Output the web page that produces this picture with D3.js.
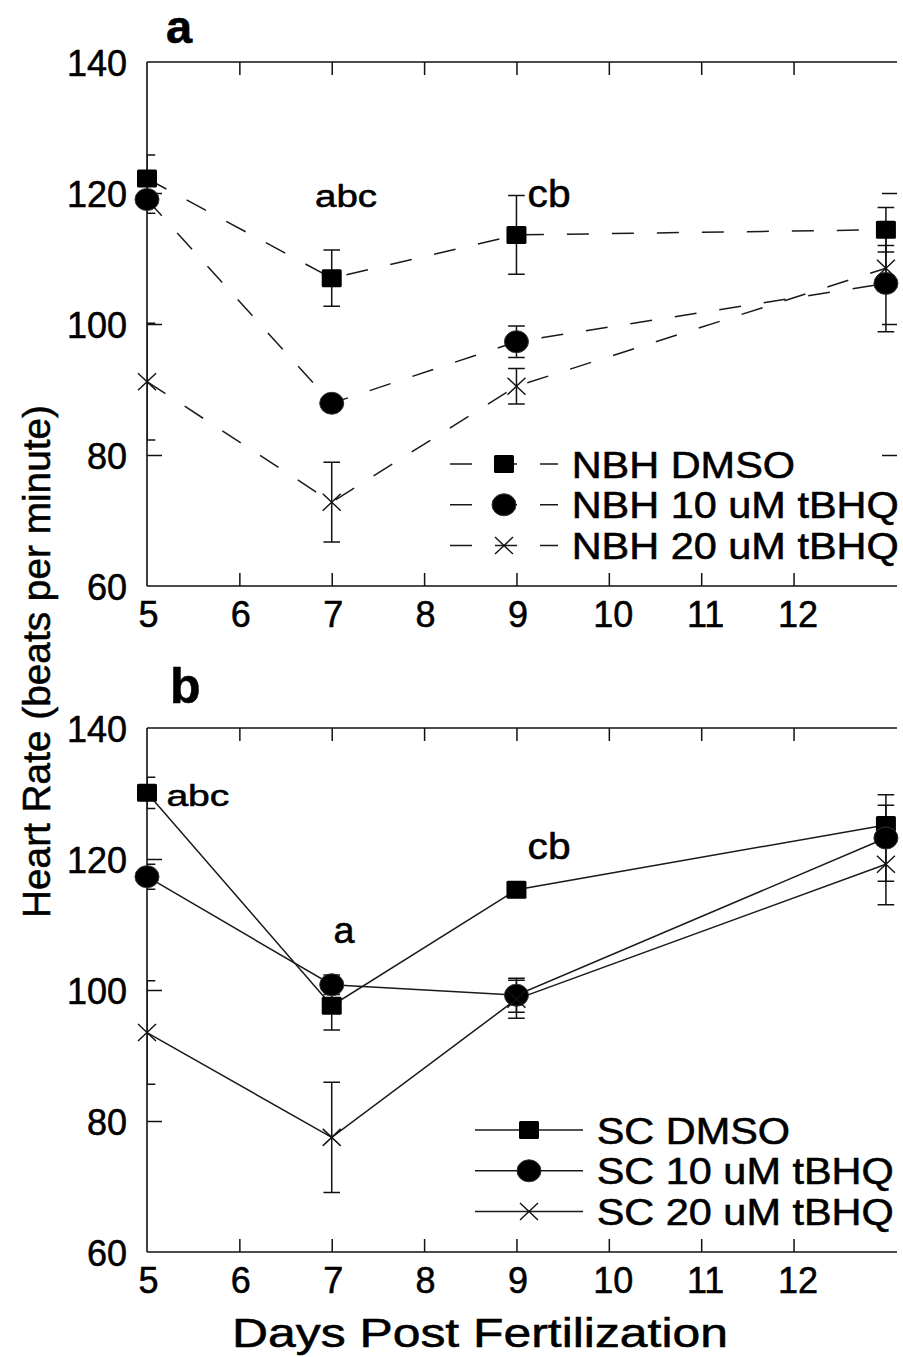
<!DOCTYPE html>
<html>
<head>
<meta charset="utf-8">
<script src="https://cdn.jsdelivr.net/npm/d3@7"></script>
<style>
  html, body { margin: 0; padding: 0; background: #fff; }
  svg { display: block; }
  text { font-family: "Liberation Sans", Arial, Helvetica, sans-serif; fill: #000; stroke: #000; stroke-width: 0.55px; }
</style>
</head>
<body>
<svg id="chart" width="903" height="1357"></svg>
<script>
// ---------------- data ----------------
const days = [5, 7, 9, 13];
const xTickValues = [5, 6, 7, 8, 9, 10, 11, 12];
const yTickValues = [60, 80, 100, 120, 140];

// Panel a (NBH)
const namesA = ["NBH DMSO", "NBH 10 uM tBHQ", "NBH 20 uM tBHQ"];
const nbhDMSO      = [122.2, 107.0, 113.6, 114.4];
const nbhDMSOErr   = [3.6, 4.3, 6.0, 3.4];
const nbh10        = [119.0, 87.9, 97.3, 106.2];
const nbh10Err     = [2.1, 1.0, 2.4, 7.4];
const nbh20        = [91.2, 72.8, 90.5, 108.5];
const nbh20Err     = [8.9, 6.1, 2.7, 3.5];

// Panel b (SC)
const namesB = ["SC DMSO", "SC 10 uM tBHQ", "SC 20 uM tBHQ"];
const scDMSO       = [130.1, 97.6, 115.3, 125.2];
const scDMSOErr    = [2.4, 3.7, 0.8, 3.0];
const sc10         = [117.3, 100.8, 99.2, 123.2];
const sc10Err      = [1.9, 1.5, 2.6, 6.6];
const sc20         = [93.5, 77.5, 98.6, 119.2];
const sc20Err      = [7.9, 8.4, 2.9, 6.2];

// significance annotations (text, day, value at baseline)
const annTextA  = ["abc", "cb"];
const annDayA   = [6.82, 9.12];
const annValA   = [117.9, 117.9];
const annTextB  = ["abc", "a", "cb"];
const annDayB   = [5.21, 7.02, 9.12];
const annValB   = [128.1, 107.1, 119.95];

const markerTypes = ["square", "circle", "cross"];

// ---------------- layout ----------------
const svg = d3.select("#chart");
const X0 = 147, X1 = 897;
const x = d3.scaleLinear().domain([5, 13.12]).range([X0, X1]);

function fit(sel, w) {
  sel.attr("textLength", w).attr("lengthAdjust", "spacingAndGlyphs");
}
function stretch(sel, f) {
  sel.each(function () {
    const n = this.getComputedTextLength();
    d3.select(this).attr("textLength", n * f).attr("lengthAdjust", "spacingAndGlyphs");
  });
}

function drawMarker(g, type, cx, cy, scale) {
  const s = scale || 1;
  if (type === "square") {
    g.append("rect").attr("x", cx - 10 * s).attr("y", cy - 9 * s)
      .attr("width", 20 * s).attr("height", 18 * s).attr("rx", 1.5)
      .attr("fill", "#000");
  } else if (type === "circle") {
    g.append("ellipse").attr("cx", cx).attr("cy", cy)
      .attr("rx", 12 * s).attr("ry", 11 * s).attr("fill", "#000")
      .attr("stroke", "#333").attr("stroke-width", 1);
  } else {
    const hx = 9 * s, hy = 8.5 * s;
    g.append("path")
      .attr("d", `M${cx - hx},${cy - hy}L${cx + hx},${cy + hy}M${cx - hx},${cy + hy}L${cx + hx},${cy - hy}`)
      .attr("stroke", "#111").attr("stroke-width", 1.4).attr("fill", "none");
  }
}

function panel(cfg) {
  const y = d3.scaleLinear().domain([60, 140]).range([cfg.bottom, cfg.top]);
  const g = svg.append("g");

  const clipId = "clip" + cfg.id;
  svg.append("defs").append("clipPath").attr("id", clipId)
    .append("rect").attr("x", X0).attr("y", cfg.top - 40)
    .attr("width", X1 - X0 + 20).attr("height", cfg.bottom - cfg.top + 80);

  // axes
  const bottomAxis = d3.axisBottom(x).tickValues(xTickValues).tickSizeInner(-13).tickSizeOuter(0)
    .tickPadding(15.5).tickFormat(d3.format("d"));
  const gb = g.append("g").attr("transform", `translate(0,${cfg.bottom})`).call(bottomAxis);
  const topAxis = d3.axisTop(x).tickValues(xTickValues.slice(1)).tickSizeInner(-13).tickSizeOuter(0)
    .tickFormat("");
  const gt = g.append("g").attr("transform", `translate(0,${cfg.top})`).call(topAxis);
  const leftAxis = d3.axisLeft(y).tickValues(yTickValues).tickSizeInner(-15).tickSizeOuter(0)
    .tickPadding(20).tickFormat(d3.format("d"));
  const gl = g.append("g").attr("transform", `translate(${X0},0)`).call(leftAxis);
  [gb, gt, gl].forEach(a => {
    a.select(".domain").attr("stroke", "#111").attr("stroke-width", 1.6);
    a.selectAll(".tick line").attr("stroke", "#111").attr("stroke-width", 1.5);
    a.selectAll("text").attr("font-size", 36).attr("fill", "#000")
      .style("font-family", '"Liberation Sans", Arial, sans-serif');
  });
  gb.select(".domain").attr("d", `M${X0},0H${X1}`);
  gt.select(".domain").attr("d", `M${X0},0H${X1}`);
  gl.select(".domain").attr("d", `M0,${cfg.bottom}V${cfg.top}`);
  gl.selectAll("text").attr("dy", "0.375em");
  gb.selectAll("text").attr("dx", d => d >= 10 ? 4 : 1);
  gb.selectAll(".tick").filter(d => d === 5).select("line").remove();
  gl.selectAll(".tick").filter(d => d === 60 || d === 140).select("line").remove();

  if (cfg.rightTicks) {
    const rightAxis = d3.axisRight(y).tickValues(cfg.rightTicks).tickSizeInner(-15).tickSizeOuter(0)
      .tickFormat("");
    const gr = g.append("g").attr("transform", `translate(${X1},0)`).call(rightAxis);
    gr.select(".domain").remove();
    gr.selectAll(".tick line").attr("stroke", "#111").attr("stroke-width", 1.5);
  }

  // series lines
  const line = d3.line().x((d, i) => x(days[i])).y(d => y(d));
  cfg.series.forEach(s => {
    g.append("path").datum(s.values).attr("d", line)
      .attr("fill", "none").attr("stroke", "#1a1a1a").attr("stroke-width", 1.5)
      .attr("stroke-dasharray", cfg.dash || null);
  });

  // error bars
  const ge = g.append("g").attr("clip-path", `url(#${clipId})`);
  cfg.series.forEach(s => {
    s.values.forEach((v, i) => {
      const cx = x(days[i]);
      const y1 = y(v + s.err[i]), y2 = y(v - s.err[i]);
      ge.append("path")
        .attr("d", `M${cx},${y1}V${y2}M${cx - 8.3},${y1}H${cx + 8.3}M${cx - 8.3},${y2}H${cx + 8.3}`)
        .attr("stroke", "#111").attr("stroke-width", 1.5).attr("fill", "none");
    });
  });

  // markers
  const gm = g.append("g");
  cfg.series.forEach(s => {
    s.values.forEach((v, i) => drawMarker(gm, s.marker, x(days[i]), y(v)));
  });

  // annotations
  cfg.ann.text.forEach((t, i) => {
    const st = cfg.annStyle[i];
    g.append("text").attr("x", x(cfg.ann.day[i])).attr("y", y(cfg.ann.val[i]))
      .attr("font-size", st.size).text(t).call(fit, st.w);
  });

  // legend
  const lg = g.append("g");
  cfg.series.forEach((s, i) => {
    const cy = cfg.top + 402 + i * 40.8;
    lg.append("line").attr("x1", cfg.legLine[0]).attr("x2", cfg.legLine[1])
      .attr("y1", cy).attr("y2", cy)
      .attr("stroke", "#1a1a1a").attr("stroke-width", 1.5)
      .attr("stroke-dasharray", cfg.dash || null);
    drawMarker(lg, s.marker, (cfg.legLine[0] + cfg.legLine[1]) / 2, cy, 1.0);
    lg.append("text").attr("x", cfg.legText).attr("y", cy + 13.5)
      .attr("font-size", 37).text(s.name).call(stretch, 1.12);
  });

  // panel letter
  g.append("text").attr("x", cfg.letterX).attr("y", cfg.letterY)
    .attr("font-size", cfg.letterSize).attr("font-weight", "bold").text(cfg.letter);
}

panel({
  id: "a", top: 62, bottom: 586, dash: "22,23", letter: "a", letterX: 166, letterY: 43, letterSize: 47,
  rightTicks: [80, 100, 120],
  legLine: [450, 558], legText: 571.7,
  series: [
    { name: namesA[0], values: nbhDMSO, err: nbhDMSOErr, marker: markerTypes[0] },
    { name: namesA[1], values: nbh10, err: nbh10Err, marker: markerTypes[1] },
    { name: namesA[2], values: nbh20, err: nbh20Err, marker: markerTypes[2] }
  ],
  ann: { text: annTextA, day: annDayA, val: annValA },
  annStyle: [{ size: 31, w: 62 }, { size: 38, w: 43 }]
});

panel({
  id: "b", top: 728, bottom: 1252, dash: null, letter: "b", letterX: 170, letterY: 703, letterSize: 50,
  rightTicks: null,
  legLine: [475, 583], legText: 596.7,
  series: [
    { name: namesB[0], values: scDMSO, err: scDMSOErr, marker: markerTypes[0] },
    { name: namesB[1], values: sc10, err: sc10Err, marker: markerTypes[1] },
    { name: namesB[2], values: sc20, err: sc20Err, marker: markerTypes[2] }
  ],
  ann: { text: annTextB, day: annDayB, val: annValB },
  annStyle: [{ size: 30, w: 63 }, { size: 36, w: 21 }, { size: 36, w: 43 }]
});

// axis titles
svg.append("text").attr("x", 232).attr("y", 1347).attr("font-size", 40)
  .text("Days Post Fertilization").call(fit, 496);
svg.append("text").attr("transform", "translate(50,661.5) rotate(-90)")
  .attr("text-anchor", "middle").attr("font-size", 39)
  .text("Heart Rate (beats per minute)").call(fit, 513);
</script>
</body>
</html>
